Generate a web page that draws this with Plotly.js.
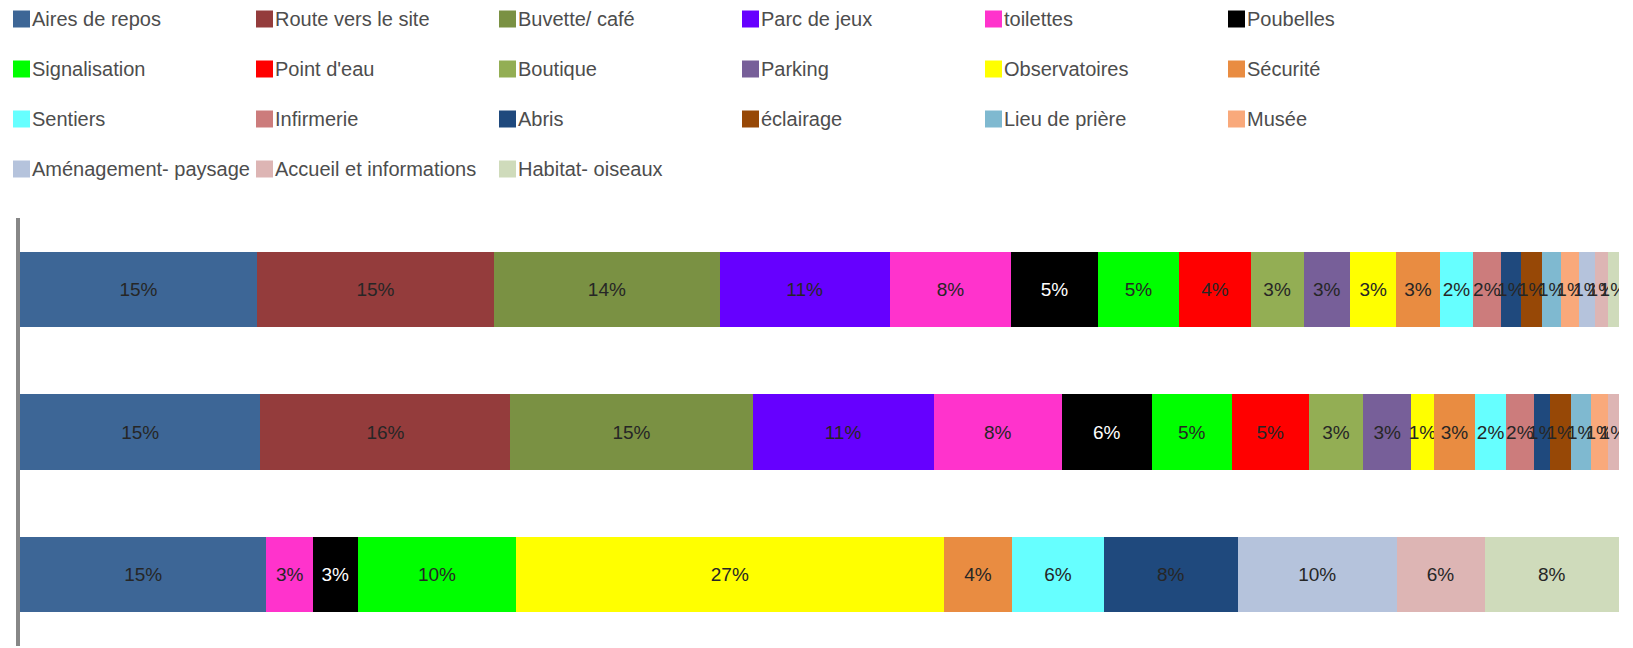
<!DOCTYPE html>
<html>
<head>
<meta charset="utf-8">
<script src="https://cdn.plot.ly/plotly-3.0.1.min.js"></script>
<style>
  html, body { margin: 0; padding: 0; background: #ffffff; }
  #chart { width: 1633px; height: 648px; }
</style>
</head>
<body>
<div id="chart"></div>
<script>
// ---- Data ----
const seriesNames = [
  "Aires de repos", "Route vers le site", "Buvette/ café", "Parc de jeux", "toilettes", "Poubelles",
  "Signalisation", "Point d'eau", "Boutique", "Parking", "Observatoires", "Sécurité",
  "Sentiers", "Infirmerie", "Abris", "éclairage", "Lieu de prière", "Musée",
  "Aménagement- paysage", "Accueil et informations", "Habitat- oiseaux"
];
const barCategories = ["Barre 1", "Barre 2", "Barre 3"];
const valuesBar1 = [14.8, 14.8, 14.1, 10.6, 7.6, 5.4, 5.1, 4.45, 3.3, 2.9, 2.9, 2.7, 2.1, 1.7, 1.3, 1.3, 1.2, 1.1, 1.0, 0.8, 0.7];
const valuesBar2 = [15.0, 15.6, 15.1, 11.3, 8.0, 5.6, 5.0, 4.8, 3.4, 3.0, 1.4, 2.6, 1.9, 1.75, 1.0, 1.3, 1.25, 1.06, 0, 0.7, 0];
const valuesBar3 = [15.4, 0, 0, 0, 2.9, 2.8, 9.9, 0, 0, 0, 26.7, 4.3, 5.7, 0, 8.4, 0, 0, 0, 9.9, 5.5, 8.4];

// ---- Styles ----
const colors = [
  "#3d6696", "#943c3c", "#7a9143", "#6600ff", "#ff33cc", "#000000",
  "#00ff00", "#ff0000", "#93ae54", "#775f99", "#ffff00", "#e98c41",
  "#66ffff", "#cc7c7c", "#1f497d", "#974806", "#7fb9d0", "#f9a97b",
  "#b5c3dc", "#ddb5b4", "#cfdbbb"
];

const W = 1633, H = 648;
const margin = { l: 20, r: 14, t: 218, b: 2 };
const plotW = W - margin.l - margin.r;
const plotH = H - margin.t - margin.b;
const px2x = p => (p - margin.l) / plotW;
const px2y = p => (H - margin.b - p) / plotH;

const traces = seriesNames.map((name, i) => {
  const xs = [valuesBar1[i], valuesBar2[i], valuesBar3[i]];
  return {
    type: "bar",
    orientation: "h",
    name: name,
    y: barCategories,
    x: xs,
    marker: { color: colors[i], line: { width: 0 } },
    text: xs.map(v => v > 0 ? Math.round(v) + "%" : ""),
    textposition: "inside",
    insidetextanchor: "middle",
    textangle: 0,
    constraintext: "none",
    textfont: { family: "Liberation Sans, Arial, sans-serif", size: 19, color: colors[i] === "#000000" ? "#ffffff" : "#262626" },
    hovertemplate: name + ": %{text}<extra></extra>"
  };
});

// Legend drawn as shapes + annotations (6 columns x 4 rows)
const shapes = [];
const annotations = [];
seriesNames.forEach((name, i) => {
  const col = i % 6, row = Math.floor(i / 6);
  const left = 13 + 243 * col;
  const cy = 19 + 50 * row;
  shapes.push({
    type: "rect", xref: "paper", yref: "paper",
    x0: px2x(left), x1: px2x(left + 17),
    y0: px2y(cy + 8.5), y1: px2y(cy - 8.5),
    fillcolor: colors[i], line: { width: 0 }
  });
  annotations.push({
    xref: "paper", yref: "paper",
    x: px2x(left + 17), y: px2y(cy),
    xanchor: "left", yanchor: "middle",
    showarrow: false, text: name,
    font: { family: "Liberation Sans, Arial, sans-serif", size: 20, color: "#4d4d4d" }
  });
});

const layout = {
  width: W, height: H,
  margin: margin,
  paper_bgcolor: "#ffffff",
  plot_bgcolor: "#ffffff",
  barmode: "stack",
  barnorm: "percent",
  bargap: 0.47,
  showlegend: false,
  uniformtext: { mode: "show", minsize: 19 },
  font: { family: "Liberation Sans, Arial, sans-serif" },
  xaxis: { range: [0, 100], visible: false, fixedrange: true },
  yaxis: {
    type: "category", autorange: "reversed",
    showline: true, linecolor: "#878787", linewidth: 4,
    showticklabels: false, ticks: "", showgrid: false, zeroline: false, fixedrange: true
  },
  shapes: shapes,
  annotations: annotations
};

Plotly.newPlot("chart", traces, layout, { displayModeBar: false, staticPlot: true });
</script>
</body>
</html>
